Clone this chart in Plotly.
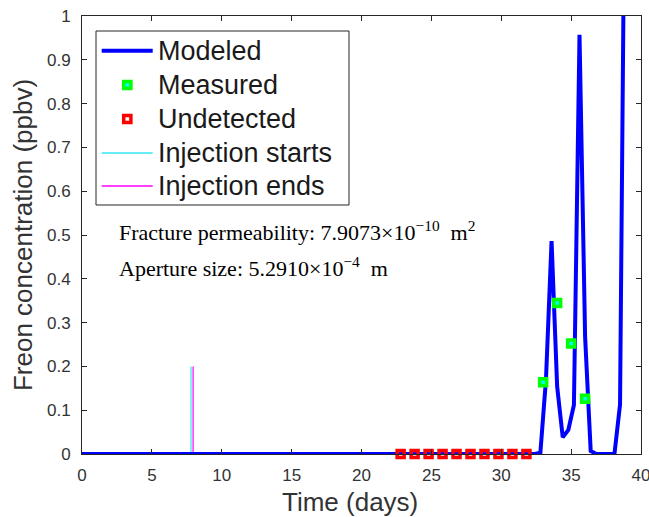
import plotly.graph_objects as go

# ---- data ----
model_t = [0, 5, 10, 15, 20, 25, 30, 32.4, 32.8, 33.2, 33.6, 34.0, 34.4, 34.8, 35.2, 35.6,
           36.0, 36.4, 36.8, 37.2, 37.6, 38.1, 38.5, 38.9]
model_c = [0, 0, 0, 0, 0, 0, 0, 0, 0.003, 0.17, 0.486, 0.154, 0.038, 0.055, 0.112, 0.957,
           0.268, 0.007, 0.0, 0.0, 0.0, 0.0, 0.113, 1.6]
meas_t = [33, 34, 35, 36]
meas_c = [0.164, 0.345, 0.252, 0.126]
undet_t = [22.8, 23.8, 24.8, 25.8, 26.8, 27.8, 28.8, 29.8, 30.8, 31.8]
undet_c = [0, 0, 0, 0, 0, 0, 0, 0, 0, 0]
inj_start_t = [7.8, 7.8]
inj_end_t = [7.95, 7.95]
inj_c = [0, 0.2]
x_ticks = [0, 5, 10, 15, 20, 25, 30, 35, 40]
y_ticks = [0, 0.1, 0.2, 0.3, 0.4, 0.5, 0.6, 0.7, 0.8, 0.9, 1]
legend_labels = ["Modeled", "Measured", "Undetected", "Injection starts", "Injection ends"]
x_title = "Time (days)"
y_title = "Freon concentration (ppbv)"
perm_text = "Fracture permeability: 7.9073×10<sup>−10</sup>&nbsp; m<sup>2</sup>"
aper_text = "Aperture size: 5.2910×10<sup>−4</sup>&nbsp; m"

AX = "#262626"
LBL = "#333333"
BLUE, GREEN, CYAN, RED, LCYAN, MAG = "#0000ff", "#00ff00", "#00ffff", "#ff0000", "#33e6f0", "#ff00ff"
SANS = "Liberation Sans, Arial, Helvetica, sans-serif"
SERIF = "Liberation Serif, Times New Roman, serif"

# plot area in pixels (for the hand-drawn legend box)
L, R, T, B = 82, 641, 16, 454
def px(xp): return (xp - L) / (R - L)
def py(yp): return (B - yp) / (B - T)

fig = go.Figure()
fig.add_trace(go.Scatter(x=inj_start_t, y=inj_c, mode="lines", name=legend_labels[3],
                         line=dict(color=LCYAN, width=1.2)))
fig.add_trace(go.Scatter(x=inj_end_t, y=inj_c, mode="lines", name=legend_labels[4],
                         line=dict(color=MAG, width=1.2)))
fig.add_trace(go.Scatter(x=model_t, y=model_c, mode="lines", name=legend_labels[0],
                         line=dict(color=BLUE, width=4)))
fig.add_trace(go.Scatter(x=meas_t, y=meas_c, mode="markers", name=legend_labels[1],
                         marker=dict(symbol="square", size=7, color=CYAN,
                                     line=dict(color=GREEN, width=3.5))))
fig.add_trace(go.Scatter(x=undet_t, y=undet_c, mode="markers", name=legend_labels[2],
                         marker=dict(symbol="square-open", size=7, color=RED,
                                     line=dict(color=RED, width=3.5)),
                         cliponaxis=False))

fig.add_annotation(x=2.5, y=0.51, xref="x", yref="y", text=perm_text, showarrow=False,
                   xanchor="left", yanchor="middle", font=dict(family=SERIF, size=22, color="black"))
fig.add_annotation(x=2.5, y=0.427, xref="x", yref="y", text=aper_text, showarrow=False,
                   xanchor="left", yanchor="middle", font=dict(family=SERIF, size=22, color="black"))

# x-axis title (placed as in the reference, slightly left of centre)
fig.add_annotation(x=px(350), y=py(502), xref="paper", yref="paper", text=x_title, showarrow=False,
                   xanchor="center", yanchor="middle", font=dict(family=SANS, size=26, color=LBL))

# ---- legend (drawn by hand to match the box geometry) ----
shapes = [dict(type="rect", xref="paper", yref="paper", x0=px(96), x1=px(349), y0=py(205), y1=py(31),
               line=dict(color=AX, width=1), fillcolor="white", layer="above")]
rows = [50.7, 85, 119, 153, 186]
sample_x0, sample_x1, mark_x, text_x = 101.7, 152.7, 127.3, 156
shapes.append(dict(type="line", xref="paper", yref="paper", x0=px(sample_x0), x1=px(sample_x1),
                   y0=py(rows[0]), y1=py(rows[0]), line=dict(color=BLUE, width=4), layer="above"))
shapes.append(dict(type="rect", xref="paper", yref="paper", xsizemode="pixel", ysizemode="pixel",
                   xanchor=px(mark_x), yanchor=py(rows[1]), x0=-3.6, x1=3.6, y0=-3.6, y1=3.6,
                   line=dict(color=GREEN, width=3.5), fillcolor=CYAN, layer="above"))
shapes.append(dict(type="rect", xref="paper", yref="paper", xsizemode="pixel", ysizemode="pixel",
                   xanchor=px(mark_x), yanchor=py(rows[2]), x0=-3.6, x1=3.6, y0=-3.6, y1=3.6,
                   line=dict(color=RED, width=3.5), fillcolor="white", layer="above"))
shapes.append(dict(type="line", xref="paper", yref="paper", x0=px(sample_x0), x1=px(sample_x1),
                   y0=py(rows[3]), y1=py(rows[3]), line=dict(color=LCYAN, width=1.3), layer="above"))
shapes.append(dict(type="line", xref="paper", yref="paper", x0=px(sample_x0), x1=px(sample_x1),
                   y0=py(rows[4]), y1=py(rows[4]), line=dict(color=MAG, width=1.3), layer="above"))
for lab, r in zip(legend_labels, rows):
    fig.add_annotation(x=px(text_x), y=py(r), xref="paper", yref="paper", text=lab, showarrow=False,
                       xanchor="left", yanchor="middle", font=dict(family=SANS, size=27, color="#1a1a1a"))

fig.update_layout(
    width=649, height=517,
    margin=dict(l=L, r=649 - R, t=T, b=517 - B),
    plot_bgcolor="white", paper_bgcolor="white",
    font=dict(family=SANS, color=AX, size=17),
    showlegend=False,
    shapes=shapes,
)
fig.update_xaxes(range=[0, 40], tickvals=x_ticks, ticks="inside", ticklen=5, tickcolor=AX,
                 showline=True, linecolor=AX, linewidth=1, mirror="ticks", showgrid=False,
                 zeroline=False, automargin=False, ticklabelstandoff=6, ticklabeloverflow="allow",
                 tickfont=dict(size=17, color=LBL))
fig.update_yaxes(range=[0, 1], tickvals=y_ticks, ticks="inside", ticklen=5, tickcolor=AX,
                 showline=True, linecolor=AX, linewidth=1, mirror="ticks", showgrid=False,
                 zeroline=False, automargin=False, ticklabelstandoff=7, ticklabeloverflow="allow",
                 title=dict(text=y_title, font=dict(size=26, color=LBL), standoff=6),
                 tickfont=dict(size=17, color=LBL))

fig.write_html("out.html", config={"displayModeBar": False},
               post_script="document.body.style.margin='0px';")
